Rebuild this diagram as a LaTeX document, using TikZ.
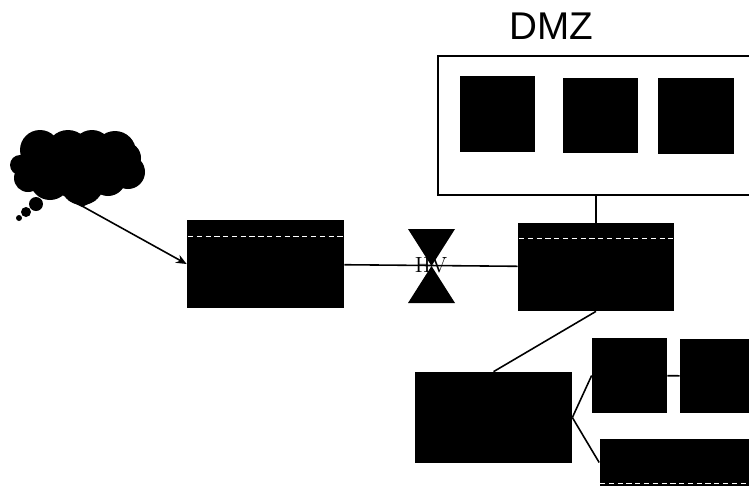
\documentclass[tikz,border=0pt]{standalone}
\usepackage{fontspec}
\newfontfamily\dmzfont{Liberation Sans}
\usetikzlibrary{arrows.meta}
\tikzset{
  blackbox/.style={fill=black,inner sep=0pt},
  bubble/.style={circle,fill=black,inner sep=0pt},
  link/.style={draw=black,line width=0.9pt},
  stripe/.style={draw=white,line width=0.35pt,densely dashed}
}
\begin{document}
\begin{tikzpicture}[x=0.02cm,y=-0.02cm]
\useasboundingbox (0,0) rectangle (749,488);
\clip (0,0) rectangle (749,488);
\node (dmzlabel) at (551,26.5) {\dmzfont\fontsize{22}{24}\selectfont DMZ};
\node[draw=black,line width=1pt,inner sep=0pt,minimum width=8.48cm,minimum height=2.78cm] (dmz) at (650,125.5) {};
\node[blackbox,minimum width=1.5cm,minimum height=1.52cm] (dmzone) at (497.5,114) {};
\node[blackbox,minimum width=1.5cm,minimum height=1.5cm] (dmztwo) at (600.5,115.5) {};
\node[blackbox,minimum width=1.52cm,minimum height=1.52cm] (dmzthree) at (696,116) {};
% cloud
\foreach \cx/\cy/\cr in {40/150/20,68/152/22,92/150/20,115/152/21,125/158/16,128/172/17,108/178/18,82/183/22,50/180/20,28/178/14,20/165/10,75/168/30}
  \fill (\cx,\cy) circle[radius=\cr*0.02cm];
\fill (68,200) -- (96,200) -- (82,207) -- cycle;
\coordinate (cloudtip) at (82,206);
\node[bubble,minimum size=0.28cm] (bubbleone) at (36,204) {};
\node[bubble,minimum size=0.2cm] (bubbletwo) at (26,212) {};
\node[bubble,minimum size=0.12cm] (bubblethree) at (19,218) {};
\node[blackbox,minimum width=3.14cm,minimum height=1.76cm] (router) at (265.5,264) {};
\node[blackbox,minimum width=3.12cm,minimum height=1.76cm] (firewall) at (596,267) {};
\node[blackbox,minimum width=3.14cm,minimum height=1.82cm] (switch) at (493.5,417.5) {};
\node[blackbox,minimum width=1.5cm,minimum height=1.5cm] (lowone) at (629.5,375.5) {};
\node[blackbox,minimum width=1.52cm,minimum height=1.48cm] (lowtwo) at (718,376) {};
\node[blackbox,minimum width=4.02cm,minimum height=0.94cm] (lowwide) at (700,462.5) {};
% connectors
\draw[link,-{Stealth[length=6pt,width=5pt]}] (cloudtip) -- (router.west);
\draw[link] (router) -- (firewall);
\draw[link] (firewall.north) -- (firewall.north |- dmz.south);
\draw[link] (firewall.south) -- (switch.north);
\draw[link] (switch.east) -- (lowone.west);
\draw[link] (switch.east) -- (lowwide.west);
\draw[link] (lowone) -- (lowtwo);
% valve
\fill (408,229) -- (455,229) -- (408,303) -- (455,303) -- cycle;
\node (hv) at (431,265) {\fontsize{12.5}{14}\selectfont HV};
% stripes
\draw[stripe] (188,236) -- (343,236);
\draw[stripe] (519,238) -- (673,238);
\draw[stripe] (600,483) -- (749,483);
\end{tikzpicture}
\end{document}
